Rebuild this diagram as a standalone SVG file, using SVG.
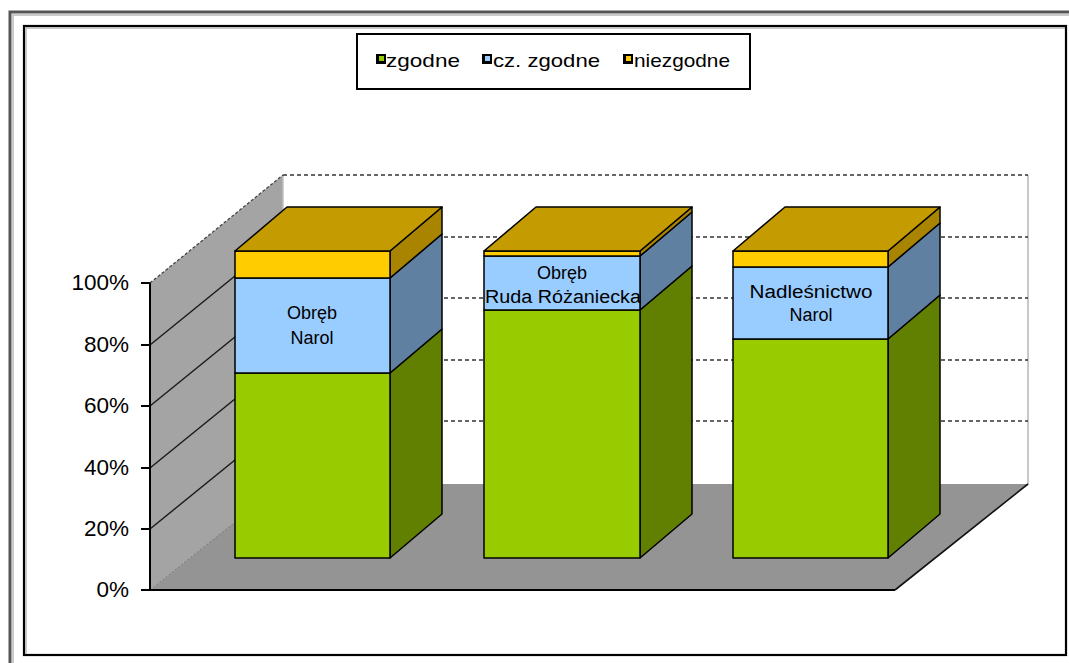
<svg xmlns="http://www.w3.org/2000/svg" width="1069" height="663" viewBox="0 0 1069 663">
<defs>
<style>
.t{font-family:"Liberation Sans",Arial,sans-serif;fill:#000}
.ax{font-size:22.5px;text-anchor:end}
.lb{font-size:18px;text-anchor:middle}
.lg{font-size:19px}
.edge{stroke:#000;stroke-width:1.5;stroke-linejoin:round}
.grid{stroke:#333;stroke-width:1.6;stroke-dasharray:4 3;fill:none}
.wgrid{stroke:#1a1a1a;stroke-width:1.4;fill:none}
.gf{fill:#99CC00}.gs{fill:#617F00}
.bf{fill:#99CCFF}.bs{fill:#6080A2}
.yf{fill:#FFCC00}.ys{fill:#A88400}
.top{fill:#C49B00}
.sq{fill:#000}
</style>
</defs>
<rect width="1069" height="663" fill="#fff"/>
<!-- frames -->
<path d="M10,663 V12 H1069" fill="none" stroke="#555" stroke-width="3"/>
<path d="M13,663 V15 H1069" fill="none" stroke="#bbb" stroke-width="1.5"/>
<rect x="24" y="26" width="1042" height="629" fill="none" stroke="#000" stroke-width="2.2"/>
<path d="M26,654 V28 H1065" fill="none" stroke="#999" stroke-width="1"/>

<!-- legend -->
<g id="legend">
<rect x="357" y="34" width="393" height="55" fill="#fff" stroke="#000" stroke-width="2"/>
<rect class="sq" x="376" y="54" width="10" height="10"/><rect x="379" y="56" width="5" height="5" fill="#99CC00"/>
<text class="t lg" x="386" y="67" textLength="74" lengthAdjust="spacingAndGlyphs">zgodne</text>
<rect class="sq" x="482" y="54" width="10" height="10"/><rect x="485" y="56" width="5" height="5" fill="#99CCFF"/>
<text class="t lg" x="493" y="67" textLength="107" lengthAdjust="spacingAndGlyphs">cz. zgodne</text>
<rect class="sq" x="623" y="54" width="10" height="10"/><rect x="626" y="56" width="5" height="5" fill="#FFCC00"/>
<text class="t lg" x="634" y="67" textLength="96" lengthAdjust="spacingAndGlyphs">niezgodne</text>
</g>

<!-- walls and floor -->
<g id="walls">
<rect x="283" y="175" width="745" height="310" fill="#fff"/>
<line x1="1028" y1="175" x2="1028" y2="485" stroke="#c8c8c8" stroke-width="2"/>
<polygon points="150,283 283,175 283,485 150,590" fill="#A4A4A4"/>
<polygon points="150,590 283,484 1028,484 895,590" fill="#949494"/>
<line x1="283" y1="175" x2="283" y2="484" stroke="#c0c0c0" stroke-width="1.5"/>
<line x1="150" y1="590" x2="283" y2="484" stroke="#777" stroke-width="1" stroke-dasharray="2 2"/>
<line x1="150" y1="283" x2="283" y2="175" stroke="#444" stroke-width="1.3" stroke-dasharray="3 2"/>
<line x1="895" y1="590" x2="1028" y2="484" stroke="#111" stroke-width="1.6"/>
</g>

<g id="gridlines">
<line class="grid" x1="283" y1="175" x2="1028" y2="175"/>
<line class="grid" x1="283" y1="237" x2="1028" y2="237"/>
<line class="grid" x1="283" y1="298" x2="1028" y2="298"/>
<line class="grid" x1="283" y1="360" x2="1028" y2="360"/>
<line class="grid" x1="283" y1="421" x2="1028" y2="421"/>
<line class="wgrid" x1="150" y1="345" x2="283" y2="237"/>
<line class="wgrid" x1="150" y1="406" x2="283" y2="298"/>
<line class="wgrid" x1="150" y1="468" x2="283" y2="360"/>
<line class="wgrid" x1="150" y1="529" x2="283" y2="421"/>
</g>

<!-- axis -->
<g id="axis">
<line x1="150" y1="590" x2="895" y2="590" stroke="#000" stroke-width="2"/>
<line x1="150" y1="283" x2="150" y2="591" stroke="#000" stroke-width="2"/>
<path d="M141,283H150M141,345H150M141,406H150M141,468H150M141,529H150M141,590H150" stroke="#000" stroke-width="2"/>
<text class="t ax" x="129" y="290">100%</text>
<text class="t ax" x="129" y="352">80%</text>
<text class="t ax" x="129" y="413">60%</text>
<text class="t ax" x="129" y="475">40%</text>
<text class="t ax" x="129" y="536">20%</text>
<text class="t ax" x="129" y="597">0%</text>
</g>

<!-- bar 1 -->
<g id="bar-obreb-narol">
<polygon class="gs edge" points="390,558 442,514 442,329 390,373"/>
<polygon class="bs edge" points="390,373 442,329 442,234 390,278"/>
<polygon class="ys edge" points="390,278 442,234 442,207 390,251"/>
<rect class="gf edge" x="235" y="373" width="155" height="185"/>
<rect class="bf edge" x="235" y="278" width="155" height="95"/>
<rect class="yf edge" x="235" y="251" width="155" height="27"/>
<polygon class="top edge" points="235,251 390,251 442,207 287,207"/>
<text class="t lb" x="312" y="319">Obręb</text>
<text class="t lb" x="312" y="344">Narol</text>
</g>

<!-- bar 2 -->
<g id="bar-obreb-ruda">
<polygon class="gs edge" points="640,558 692,514 692,266 640,310"/>
<polygon class="bs edge" points="640,310 692,266 692,212 640,256"/>
<polygon class="ys edge" points="640,256 692,212 692,207 640,251"/>
<rect class="gf edge" x="484" y="310" width="156" height="248"/>
<rect class="bf edge" x="484" y="256" width="156" height="54"/>
<rect class="yf edge" x="484" y="251" width="156" height="5"/>
<polygon class="top edge" points="484,251 640,251 692,207 536,207"/>
<text class="t lb" x="562" y="279">Obręb</text>
<text class="t lb" x="563" y="303" textLength="156" lengthAdjust="spacingAndGlyphs">Ruda Różaniecka</text>
</g>

<!-- bar 3 -->
<g id="bar-nadlesnictwo">
<polygon class="gs edge" points="888,558 940,514 940,295 888,339"/>
<polygon class="bs edge" points="888,339 940,295 940,223 888,267"/>
<polygon class="ys edge" points="888,267 940,223 940,207 888,251"/>
<rect class="gf edge" x="733" y="339" width="155" height="219"/>
<rect class="bf edge" x="733" y="267" width="155" height="72"/>
<rect class="yf edge" x="733" y="251" width="155" height="16"/>
<polygon class="top edge" points="733,251 888,251 940,207 785,207"/>
<text class="t lb" x="811" y="298" textLength="123" lengthAdjust="spacingAndGlyphs">Nadleśnictwo</text>
<text class="t lb" x="811" y="321">Narol</text>
</g>

<g id="connectors"></g>
</svg>
